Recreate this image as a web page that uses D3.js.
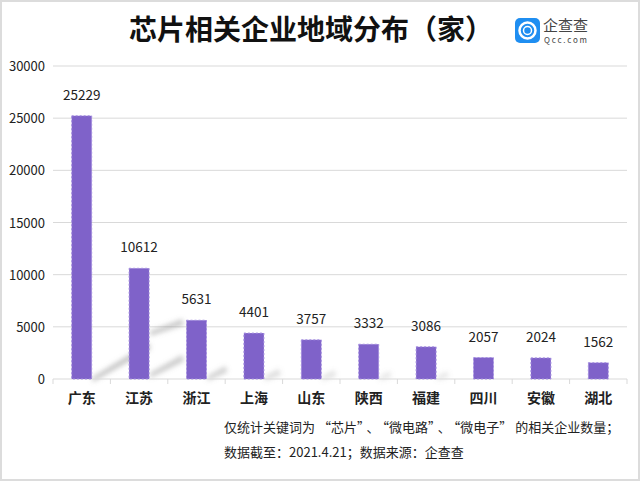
<!DOCTYPE html>
<html lang="zh-CN">
<head>
<meta charset="utf-8">
<script src="https://cdn.jsdelivr.net/npm/d3@7"></script>
<style>
body { margin: 0; background: #fff; }
text { font-family: "Noto Sans CJK SC", "Noto Sans", sans-serif; }
</style>
</head>
<body>
<div id="chart"></div>
<script>
var provinces = ['广东', '江苏', '浙江', '上海', '山东', '陕西', '福建', '四川', '安徽', '湖北'];
var counts = [25229, 10612, 5631, 4401, 3757, 3332, 3086, 2057, 2024, 1562];
var y_ticks = [0, 5000, 10000, 15000, 20000, 25000, 30000];
var title = '芯片相关企业地域分布（家）';
var notes = ['仅统计关键词为“芯片”、“微电路”、“微电子”的相关企业数量；', '数据截至：2021.4.21；数据来源：企查查'];

var width = 640, height = 481;
var bar_color = '#7f62c9';

var svg = d3.select('#chart').append('svg')
    .attr('width', width)
    .attr('height', height);

var defs = svg.append('defs');
var blur = defs.append('filter').attr('id', 'blur')
    .attr('x', '-50%').attr('y', '-50%').attr('width', '200%').attr('height', '200%');
blur.append('feGaussianBlur').attr('stdDeviation', 2.5);

// frame
svg.append('rect')
    .attr('x', 1).attr('y', 1)
    .attr('width', width - 2).attr('height', height - 2)
    .attr('fill', '#fff')
    .attr('stroke', '#dcdcdc')
    .attr('stroke-width', 2);

var x = d3.scaleBand().domain(provinces).range([53, 627]).paddingInner(0).paddingOuter(0);
var y = d3.scaleLinear().domain([0, 30000]).range([379, 66]);
var bar_w = 20;

// gridlines
svg.append('g').selectAll('line').data(y_ticks.slice(1)).enter().append('line')
    .attr('x1', 53).attr('x2', 627)
    .attr('y1', function(d) { return y(d); })
    .attr('y2', function(d) { return y(d); })
    .attr('stroke', '#d9d9d9')
    .attr('stroke-width', 1);

// y labels
svg.append('g').selectAll('text').data(y_ticks).enter().append('text')
    .attr('x', 45)
    .attr('y', function(d) { return y(d) + 5; })
    .attr('text-anchor', 'end')
    .style('font-size', '13px')
    .style('fill', '#222')
    .text(function(d) { return d; });

// soft diagonal shadows (decoration): [bar index, start dy above base, run, rise, opacity]
var shadow_style = [
  [0, 2, 56, 34, 0.5],
  [1, 48, 32, 12, 0.45],
  [1, 6, 32, 18, 0.45],
  [2, 3, 18, 10, 0.4],
  [3, 3, 14, 7, 0.3],
  [4, 3, 12, 6, 0.25],
  [5, 3, 10, 5, 0.2],
  [6, 3, 10, 5, 0.2]
];
var shadows = svg.append('g').attr('filter', 'url(#blur)');
shadow_style.forEach(function(s) {
  var x0 = x(provinces[s[0]]) + x.bandwidth() / 2 + bar_w / 2 + 1;
  var y0 = y(0) - s[1];
  shadows.append('path')
      .attr('d', 'M' + x0 + ',' + y0 + ' L' + (x0 + s[2]) + ',' + (y0 - s[3]) +
                 ' L' + (x0 + s[2] + 2) + ',' + (y0 - s[3] + 6) + ' L' + x0 + ',' + (y0 + 5) + ' Z')
      .attr('fill', '#8a8a8a')
      .attr('opacity', s[4]);
});

// axis line and ticks
svg.append('line')
    .attr('x1', 53).attr('x2', 627)
    .attr('y1', y(0)).attr('y2', y(0))
    .attr('stroke', '#d9d9d9');
svg.append('g').selectAll('line').data(d3.range(provinces.length + 1)).enter().append('line')
    .attr('x1', function(d) { return 53 + d * x.step(); })
    .attr('x2', function(d) { return 53 + d * x.step(); })
    .attr('y1', y(0)).attr('y2', y(0) + 5)
    .attr('stroke', '#d9d9d9');

// bars
var bars = svg.append('g').selectAll('g').data(provinces).enter().append('g');
bars.append('rect')
    .attr('x', function(d) { return x(d) + x.bandwidth() / 2 - bar_w / 2; })
    .attr('y', function(d, i) { return y(counts[i]); })
    .attr('width', bar_w)
    .attr('height', function(d, i) { return y(0) - y(counts[i]); })
    .attr('fill', bar_color)
    .attr('stroke', '#a58fe0')
    .attr('stroke-width', 1)
    .attr('stroke-dasharray', '2,2');

// value labels
bars.append('text')
    .attr('x', function(d) { return x(d) + x.bandwidth() / 2; })
    .attr('y', function(d, i) { return y(counts[i]) - 16; })
    .attr('text-anchor', 'middle')
    .style('font-size', '13.5px')
    .style('fill', '#222')
    .text(function(d, i) { return counts[i]; });

// category labels
bars.append('text')
    .attr('x', function(d) { return x(d) + x.bandwidth() / 2; })
    .attr('y', 403)
    .attr('text-anchor', 'middle')
    .style('font-size', '14px')
    .style('font-weight', 'bold')
    .style('fill', '#222')
    .text(function(d) { return d; });

// title
svg.append('text')
    .attr('x', 311)
    .attr('y', 40)
    .attr('text-anchor', 'middle')
    .style('font-size', '28px')
    .style('font-weight', 'bold')
    .style('fill', '#111')
    .text(title);

// logo
var logo = svg.append('g').attr('transform', 'translate(515,18)');
logo.append('rect')
    .attr('width', 25).attr('height', 25).attr('rx', 5)
    .attr('fill', '#1f8ef1');
logo.append('circle')
    .attr('cx', 12.5).attr('cy', 12.5).attr('r', 8)
    .attr('fill', 'none').attr('stroke', '#fff').attr('stroke-width', 2.5);
logo.append('circle')
    .attr('cx', 12.5).attr('cy', 12.5).attr('r', 4)
    .attr('fill', 'none').attr('stroke', '#fff').attr('stroke-width', 1.5);
logo.append('text')
    .attr('x', 28).attr('y', 13)
    .style('font-size', '15px')
    .style('fill', '#444')
    .text('企查查');
logo.append('text')
    .attr('x', 29).attr('y', 25)
    .style('font-size', '8px')
    .style('letter-spacing', '1.8px')
    .style('fill', '#444')
    .text('Qcc.com');

// notes: pad the curly quotes a little, like the original
var note_text = svg.append('g').selectAll('text').data(notes).enter().append('text')
    .attr('x', 224)
    .attr('y', function(d, i) { return 432 + i * 25; })
    .style('font-size', '13px')
    .style('fill', '#222');
note_text.selectAll('tspan')
    .data(function(d) { return d.split(/(“|”)/).filter(function(s) { return s.length; }); })
    .enter().append('tspan')
    .attr('dx', function(d, i, nodes) {
      var prev = i > 0 ? nodes[i - 1].__data__ : '';
      return (d === '“' || prev === '”') ? 3 : 0;
    })
    .text(function(d) { return d; });
</script>
</body>
</html>
